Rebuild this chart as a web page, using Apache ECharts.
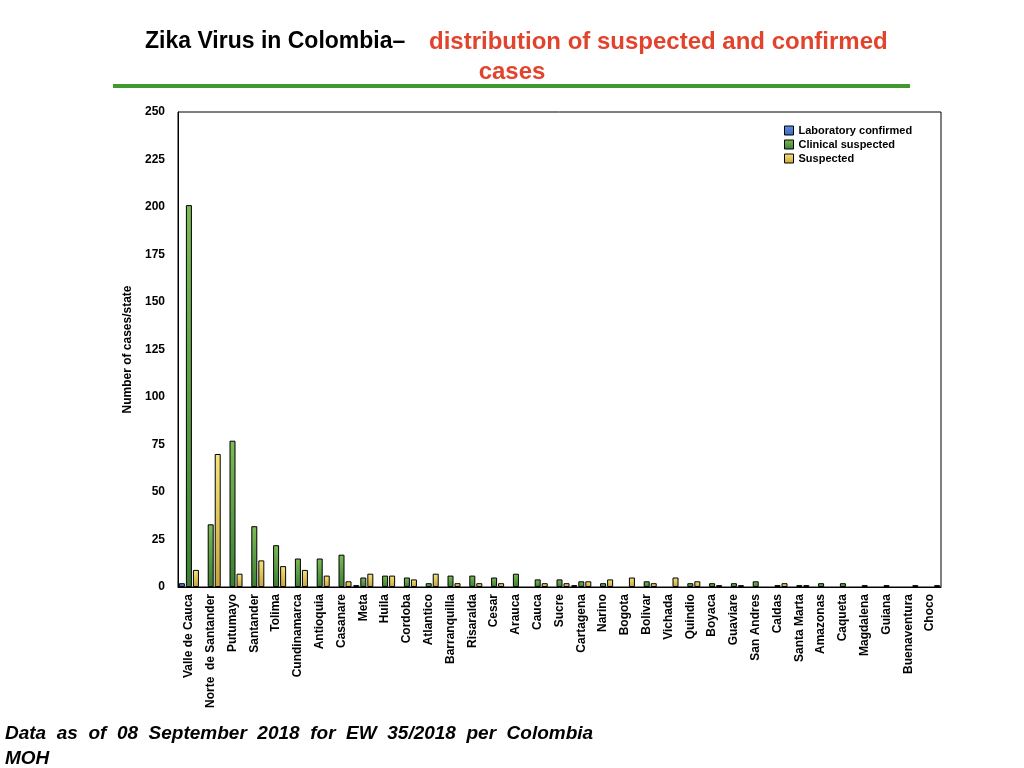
<!DOCTYPE html>
<html>
<head>
<meta charset="utf-8">
<script src="https://cdn.jsdelivr.net/npm/echarts@6/dist/echarts.min.js"></script>
<style>
  html, body { margin: 0; padding: 0; background: #fff; }
  #main { width: 1024px; height: 768px; }
</style>
</head>
<body>
<div id="main"></div>
<script>
const states = ['Valle de Cauca', 'Norte  de Santander', 'Putumayo', 'Santander', 'Tolima', 'Cundinamarca',
  'Antioquia', 'Casanare', 'Meta', 'Huila', 'Cordoba', 'Atlantico', 'Barranquilla', 'Risaralda', 'Cesar',
  'Arauca', 'Cauca', 'Sucre', 'Cartagena', 'Narino', 'Bogota', 'Bolivar', 'Vichada', 'Quindio', 'Boyaca',
  'Guaviare', 'San Andres', 'Caldas', 'Santa Marta', 'Amazonas', 'Caqueta', 'Magdalena', 'Guiana',
  'Buenaventura', 'Choco']
const labConfirmed = [2, null, null, null, null, null, null, null, 1, null, null, null, null, null, null,
  null, null, null, 1, null, null, null, null, null, null, null, null, null, null, null, null, null, null,
  null, null]
const clinicalSuspected = [201, 33, 77, 32, 22, 15, 15, 17, 5, 6, 5, 2, 6, 6, 5,
  7, 4, 4, 3, 2, null, 3, null, 2, 2, 2, 3, 1, 1, 2, 2, 1, 1, null, null]
const suspected = [9, 70, 7, 14, 11, 9, 6, 3, 7, 6, 4, 7, 2, 2, 2,
  null, 2, 2, 3, 4, 5, 2, 5, 3, 1, 1, null, 2, 1, null, null, null, null, 1, 1]
const yTicks = [0, 25, 50, 75, 100, 125, 150, 175, 200, 225, 250]

const chart = echarts.init(document.getElementById('main'))
const font = 'Liberation Sans, Arial, Helvetica, sans-serif'

function grad(top, bottom) {
  return new echarts.graphic.LinearGradient(0, 0, 0, 1, [
    { offset: 0, color: top },
    { offset: 1, color: bottom }
  ])
}

function barSeries(name, data, color) {
  return {
    name: name,
    type: 'bar',
    data: data,
    barWidth: 6,
    barGap: '17%',
    itemStyle: { color: color, borderColor: '#000', borderWidth: 1 }
  }
}

chart.setOption({
  animation: false,
  textStyle: { fontFamily: font },
  title: [
    {
      text: 'Zika Virus in Colombia\u2013',
      left: 140, top: 25,
      textStyle: { fontSize: 23, fontWeight: 'bold', color: '#000', fontFamily: font }
    },
    {
      text: 'distribution of suspected and confirmed',
      left: 424, top: 25,
      textStyle: { fontSize: 24, fontWeight: 'bold', color: '#e2432c', fontFamily: font }
    },
    {
      text: 'cases',
      left: 'center', top: 55,
      textStyle: { fontSize: 24, fontWeight: 'bold', color: '#e2432c', fontFamily: font }
    }
  ],
  graphic: [
    {
      type: 'rect',
      shape: { x: 113, y: 84, width: 797, height: 4 },
      style: { fill: '#3f992e' }
    },
    {
      type: 'text',
      left: 5, top: 721,
      style: {
        text: 'Data  as  of  08  September  2018  for  EW  35/2018  per  Colombia\nMOH',
        font: 'italic bold 19px ' + font,
        lineHeight: 25,
        fill: '#000'
      }
    }
  ],
  legend: {
    orient: 'vertical',
    left: 784, top: 124,
    padding: 0,
    icon: 'rect',
    itemWidth: 9, itemHeight: 9, itemGap: 1,
    itemStyle: { borderColor: '#000', borderWidth: 1 },
    textStyle: { fontSize: 11, fontWeight: 'bold', color: '#000', padding: [0, 0, 0, 0], lineHeight: 13 },
    data: ['Laboratory confirmed', 'Clinical suspected', 'Suspected']
  },
  grid: {
    left: 178, right: 83, top: 112, bottom: 181,
    show: true, borderColor: '#000', borderWidth: 1
  },
  xAxis: {
    type: 'category',
    data: states,
    axisLine: { lineStyle: { color: '#000' } },
    axisTick: { show: false },
    axisLabel: {
      rotate: 90, interval: 0, margin: 7,
      fontSize: 12, fontWeight: 'bold', color: '#000'
    }
  },
  yAxis: {
    type: 'value',
    min: yTicks[0], max: yTicks[yTicks.length - 1], interval: 25,
    name: 'Number of cases/state',
    nameLocation: 'middle', nameGap: 41,
    nameTextStyle: { fontSize: 12, fontWeight: 'bold', color: '#000' },
    axisLine: { show: true, lineStyle: { color: '#000' } },
    axisTick: { show: false },
    splitLine: { show: false },
    axisLabel: { fontSize: 12, fontWeight: 'bold', color: '#000', margin: 13 }
  },
  series: [
    barSeries('Laboratory confirmed', labConfirmed, grad('#5b93e0', '#3a68b8')),
    barSeries('Clinical suspected', clinicalSuspected, grad('#7dbb55', '#3b7f33')),
    barSeries('Suspected', suspected, grad('#f6e47e', '#c7a63a'))
  ]
})
</script>
</body>
</html>
